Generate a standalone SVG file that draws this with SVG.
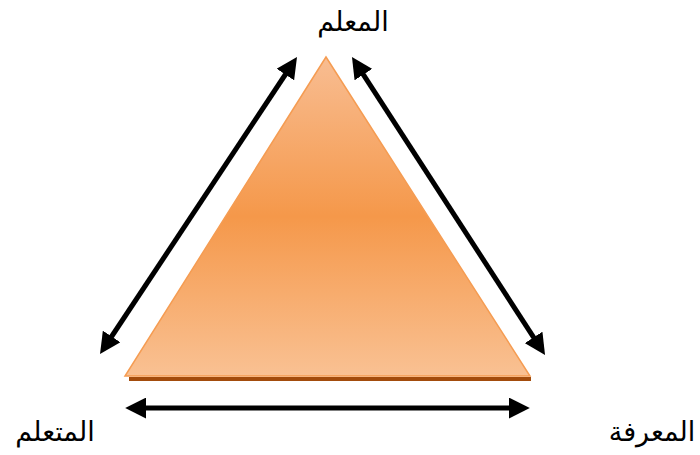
<svg xmlns="http://www.w3.org/2000/svg" width="700" height="455" viewBox="0 0 700 455">
<style>
.lbl{font-family:"DejaVu Sans","Noto Sans",sans-serif;font-size:27px;fill:#000;text-anchor:middle}
.arr{stroke:#000;stroke-width:5;fill:none;marker-start:url(#ah);marker-end:url(#ah)}
</style>
<defs>
<linearGradient id="g" x1="0" y1="0" x2="0" y2="1">
<stop offset="0" stop-color="#f8bd92"/>
<stop offset="0.5" stop-color="#f5984a"/>
<stop offset="1" stop-color="#f9c193"/>
</linearGradient>
<marker id="ah" viewBox="0 0 10 10" refX="2" refY="5" markerWidth="4.2" markerHeight="4.2" orient="auto-start-reverse" markerUnits="strokeWidth">
<path d="M0,0 L10,5 L0,10 Z" fill="#000"/>
</marker>
</defs>
<g id="triangle">
<polygon points="129,377 531,377 531,381 129,381" fill="#a34c0c"/>
<polygon points="326,57 530,376 125,376" fill="url(#g)" stroke="#f59c52" stroke-width="1.5"/>
</g>
<g id="connectors">
<line class="arr" x1="109.3" y1="340" x2="287.7" y2="71"/>
<line class="arr" x1="361.1" y1="71.1" x2="535.9" y2="340.9"/>
<line class="arr" x1="142" y1="408" x2="513" y2="408"/>
</g>
<g id="teacher"><text class="lbl" x="353" y="31">المعلم</text></g>
<g id="learner"><text class="lbl" x="55" y="441">المتعلم</text></g>
<g id="knowledge"><text class="lbl" x="652" y="441">المعرفة</text></g>
</svg>
